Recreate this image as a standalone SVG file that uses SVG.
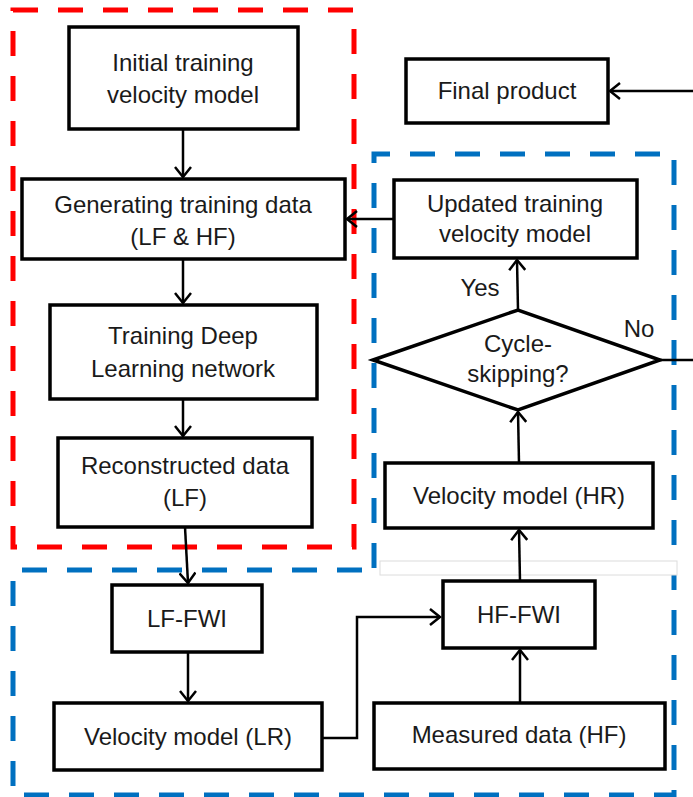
<svg xmlns="http://www.w3.org/2000/svg" width="693" height="797" viewBox="0 0 693 797">
<style>
.box{fill:#fff;stroke:#000;stroke-width:3.5}
.t{font-family:"Liberation Sans",Arial,sans-serif;font-size:24px;fill:#1a1a1a;text-anchor:middle}
.c{fill:none;stroke:#000;stroke-width:2.5}
.red{fill:none;stroke:#FF0000;stroke-width:5;stroke-dasharray:25 20}
.blue{fill:none;stroke:#0070C0;stroke-width:5;stroke-dasharray:25 20}
</style>
<defs>
<marker id="ah" markerWidth="14" markerHeight="18" refX="12" refY="9" orient="auto" markerUnits="userSpaceOnUse">
<polyline points="2,1 12,9 2,17" fill="none" stroke="#000" stroke-width="2.5"/>
</marker>
</defs>
<rect width="693" height="797" fill="#fff"/>
<g id="regions">
<rect class="red" x="13" y="10" width="341" height="537"/>
<path class="blue" d="M374,568 V154 H674 V795 H13 V570 H374"/>
<rect x="380" y="561" width="297" height="14" fill="#fff" stroke="#dcdcdc" stroke-width="1"/>
</g>
<g id="connectors">
<line class="c" x1="183" y1="129" x2="183" y2="177" marker-end="url(#ah)"/>
<line class="c" x1="183" y1="259" x2="183" y2="303" marker-end="url(#ah)"/>
<line class="c" x1="183" y1="399" x2="183" y2="436" marker-end="url(#ah)"/>
<line class="c" x1="185" y1="527" x2="188" y2="583" marker-end="url(#ah)"/>
<line class="c" x1="188" y1="652" x2="188" y2="701" marker-end="url(#ah)"/>
<polyline class="c" points="322,738 357,738 357,617 440,617" marker-end="url(#ah)"/>
<line class="c" x1="520" y1="703" x2="520" y2="650" marker-end="url(#ah)"/>
<line class="c" x1="520" y1="581" x2="519" y2="530" marker-end="url(#ah)"/>
<line class="c" x1="519" y1="463" x2="518" y2="412" marker-end="url(#ah)"/>
<line class="c" x1="518" y1="310" x2="517" y2="260" marker-end="url(#ah)"/>
<line class="c" x1="394" y1="219" x2="347" y2="219" marker-end="url(#ah)"/>
<line class="c" x1="660" y1="360" x2="693" y2="360"/>
<line class="c" x1="693" y1="91" x2="610" y2="91" marker-end="url(#ah)"/>
<text class="t" x="480" y="296">Yes</text>
<text class="t" x="639" y="337">No</text>
</g>
<g id="n-initial">
<rect class="box" x="69" y="27" width="229" height="102"/>
<text class="t" x="183" y="71">Initial training</text>
<text class="t" x="183" y="103">velocity model</text>
</g>
<g id="n-generating">
<rect class="box" x="22" y="179" width="323" height="80"/>
<text class="t" x="183" y="213">Generating training data</text>
<text class="t" x="183" y="245">(LF &amp; HF)</text>
</g>
<g id="n-training">
<rect class="box" x="50" y="305" width="267" height="94"/>
<text class="t" x="183" y="344">Training Deep</text>
<text class="t" x="183" y="377">Learning network</text>
</g>
<g id="n-reconstructed">
<rect class="box" x="58" y="438" width="254" height="89"/>
<text class="t" x="185" y="474">Reconstructed data</text>
<text class="t" x="185" y="506">(LF)</text>
</g>
<g id="n-lffwi">
<rect class="box" x="112" y="585" width="150" height="67"/>
<text class="t" x="187" y="627">LF-FWI</text>
</g>
<g id="n-vmlr">
<rect class="box" x="54" y="703" width="268" height="67"/>
<text class="t" x="188" y="745">Velocity model (LR)</text>
</g>
<g id="n-hffwi">
<rect class="box" x="443" y="581" width="152" height="67"/>
<text class="t" x="519" y="623">HF-FWI</text>
</g>
<g id="n-measured">
<rect class="box" x="374" y="703" width="291" height="66"/>
<text class="t" x="519" y="743">Measured data (HF)</text>
</g>
<g id="n-vmhr">
<rect class="box" x="385" y="463" width="268" height="65"/>
<text class="t" x="519" y="504">Velocity model (HR)</text>
</g>
<g id="n-cycle">
<polygon class="box" points="373,360 518,310 660,360 518,410"/>
<text class="t" x="518" y="352">Cycle-</text>
<text class="t" x="518" y="382">skipping?</text>
</g>
<g id="n-updated">
<rect class="box" x="394" y="180" width="243" height="78"/>
<text class="t" x="515" y="212">Updated training</text>
<text class="t" x="515" y="242">velocity model</text>
</g>
<g id="n-final">
<rect class="box" x="406" y="59" width="202" height="64"/>
<text class="t" x="507" y="99">Final product</text>
</g>
</svg>
